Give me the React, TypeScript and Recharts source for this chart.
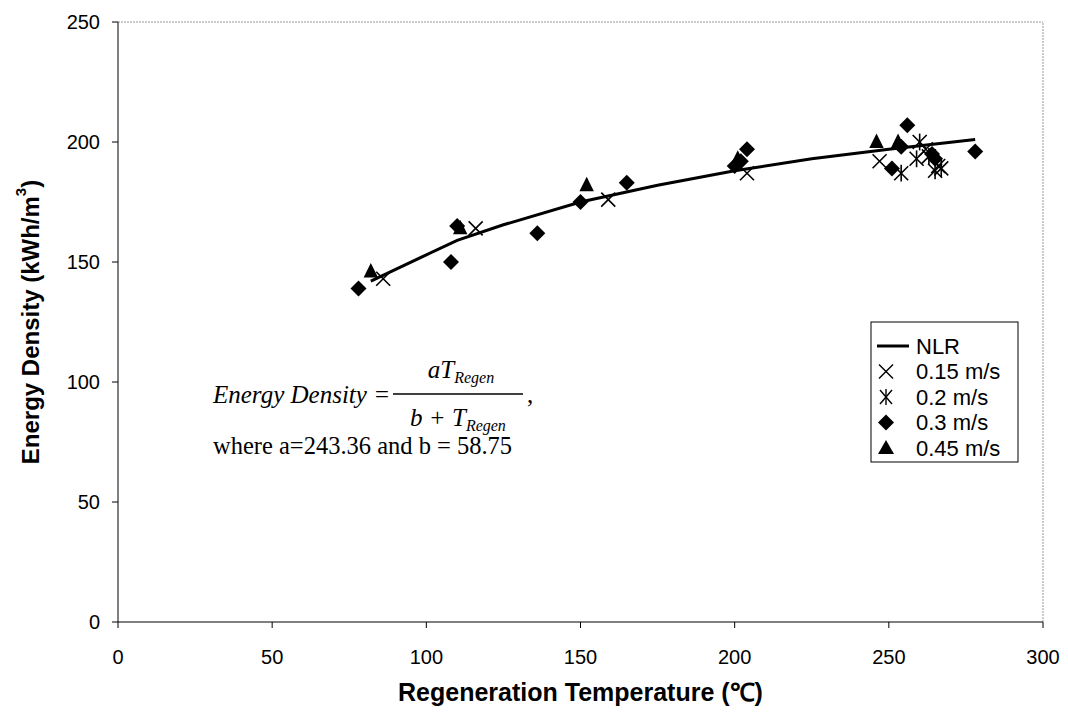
import React from "react";
import {
  ComposedChart,
  Scatter,
  XAxis,
  YAxis,
  ReferenceLine,
  Label,
} from "recharts";

// ---- data ----
const xTicks = [0, 50, 100, 150, 200, 250, 300];
const yTicks = [0, 50, 100, 150, 200, 250];

const nlrCurve = [
  { x: 82, y: 142 },
  { x: 100, y: 153 },
  { x: 110, y: 159 },
  { x: 125, y: 165.5 },
  { x: 150, y: 175 },
  { x: 175, y: 182 },
  { x: 200, y: 188 },
  { x: 225, y: 193 },
  { x: 250, y: 197 },
  { x: 278, y: 201 },
];

const v015 = [
  { x: 86, y: 143 },
  { x: 116, y: 164 },
  { x: 159, y: 176 },
  { x: 204, y: 187 },
  { x: 247, y: 192 },
  { x: 262, y: 197 },
  { x: 266, y: 190 },
];

const v02 = [
  { x: 254, y: 187 },
  { x: 260, y: 200 },
  { x: 259, y: 193 },
  { x: 265, y: 188 },
  { x: 267, y: 189 },
  { x: 263, y: 194 },
];

const v03 = [
  { x: 78, y: 139 },
  { x: 108, y: 150 },
  { x: 110, y: 165 },
  { x: 136, y: 162 },
  { x: 150, y: 175 },
  { x: 165, y: 183 },
  { x: 200, y: 190 },
  { x: 202, y: 192 },
  { x: 204, y: 197 },
  { x: 251, y: 189 },
  { x: 254, y: 198 },
  { x: 256, y: 207 },
  { x: 264, y: 195 },
  { x: 265, y: 193 },
  { x: 278, y: 196 },
];

const v045 = [
  { x: 82, y: 146 },
  { x: 111, y: 164 },
  { x: 152, y: 182 },
  { x: 201, y: 193 },
  { x: 246, y: 200 },
  { x: 253, y: 200 },
];

const legendLabels = ["NLR", "0.15 m/s", "0.2 m/s", "0.3 m/s", "0.45 m/s"];

// ---- marker shapes ----
const XMark = (p: any) => {
  const { cx, cy } = p;
  const r = 7;
  return (
    <g stroke="#000" strokeWidth={1.6}>
      <line x1={cx - r} y1={cy - r} x2={cx + r} y2={cy + r} />
      <line x1={cx - r} y1={cy + r} x2={cx + r} y2={cy - r} />
    </g>
  );
};
const StarMark = (p: any) => {
  const { cx, cy } = p;
  const r = 7;
  return (
    <g stroke="#000" strokeWidth={1.6}>
      <line x1={cx - r} y1={cy - r} x2={cx + r} y2={cy + r} />
      <line x1={cx - r} y1={cy + r} x2={cx + r} y2={cy - r} />
      <line x1={cx} y1={cy - r * 1.2} x2={cx} y2={cy + r * 1.2} />
    </g>
  );
};
const DiamondMark = (p: any) => {
  const { cx, cy } = p;
  const r = 8;
  return (
    <polygon
      points={`${cx},${cy - r} ${cx + r},${cy} ${cx},${cy + r} ${cx - r},${cy}`}
      fill="#000"
    />
  );
};
const TriMark = (p: any) => {
  const { cx, cy } = p;
  const r = 8.5;
  return (
    <polygon
      points={`${cx},${cy - r} ${cx + r * 0.85},${cy + r * 0.7} ${cx - r * 0.85},${cy + r * 0.7}`}
      fill="#000"
    />
  );
};
const NoMark = () => null;

const tickStyle = {
  fill: "#000",
  fontSize: 20,
  fontFamily: "'Liberation Sans', Arial, sans-serif",
};

const YTitle = (props: any) => {
  const { viewBox } = props;
  const cy = viewBox.y + viewBox.height / 2;
  const x = 22;
  return (
    <text
      x={x}
      y={cy}
      transform={`rotate(-90, ${x}, ${cy})`}
      textAnchor="middle"
      dominantBaseline="central"
      fontFamily="'Liberation Sans', Arial, sans-serif"
      fontWeight="bold"
      fontSize={24}
      fill="#000"
    >
      Energy Density (kWh/m
      <tspan fontSize={15} dy={-10}>
        3
      </tspan>
      <tspan dy={10}>)</tspan>
    </text>
  );
};

const legendIcons = [
  (x: number, y: number) => (
    <line x1={x - 9} y1={y} x2={x + 23} y2={y} stroke="#000" strokeWidth={3} />
  ),
  (x: number, y: number) => (
    <g stroke="#000" strokeWidth={1.4}>
      <line x1={x - 7} y1={y - 7} x2={x + 7} y2={y + 7} />
      <line x1={x - 7} y1={y + 7} x2={x + 7} y2={y - 7} />
    </g>
  ),
  (x: number, y: number) => (
    <g stroke="#000" strokeWidth={1.4}>
      <line x1={x - 6} y1={y - 7} x2={x + 6} y2={y + 7} />
      <line x1={x - 6} y1={y + 7} x2={x + 6} y2={y - 7} />
      <line x1={x} y1={y - 8} x2={x} y2={y + 8} />
    </g>
  ),
  (x: number, y: number) => (
    <polygon
      points={`${x},${y - 8} ${x + 8},${y} ${x},${y + 8} ${x - 8},${y}`}
      fill="#000"
    />
  ),
  (x: number, y: number) => (
    <polygon
      points={`${x},${y - 8} ${x + 8},${y + 6} ${x - 8},${y + 6}`}
      fill="#000"
    />
  ),
];

export default function App() {
  const W = 1060;
  const H = 700;
  const serif = "'Liberation Serif', 'Times New Roman', serif";
  const sans = "'Liberation Sans', Arial, sans-serif";
  // legend box in chart coords
  const lx = 863;
  const ly = 314;
  const lw = 147;
  const lh = 140;
  return (
    <div style={{ position: "relative", width: W, height: H, background: "#fff" }}>
      <ComposedChart
        width={W}
        height={H}
        margin={{ top: 14, right: 25, bottom: 56, left: 50 }}
      >
        <XAxis
          type="number"
          dataKey="x"
          domain={[0, 300]}
          ticks={xTicks}
          interval={0}
          tick={tickStyle}
          tickSize={6}
          tickMargin={22}
          stroke="#000"
          height={30}
          allowDataOverflow
        >
          <Label
            value="Regeneration Temperature (℃)"
            position="bottom"
            offset={31}
            style={{
              fontFamily: sans,
              fontWeight: "bold",
              fontSize: 25,
              fill: "#000",
            }}
          />
        </XAxis>
        <YAxis
          type="number"
          dataKey="y"
          domain={[0, 250]}
          ticks={yTicks}
          interval={0}
          tick={tickStyle}
          tickSize={6}
          tickMargin={12}
          stroke="#000"
          width={60}
          allowDataOverflow
        >
          <Label content={<YTitle />} />
        </YAxis>
        <ReferenceLine y={250} stroke="#999" strokeDasharray="2 1" />
        <ReferenceLine x={300} stroke="#999" strokeDasharray="2 1" />
        <Scatter
          name="NLR"
          data={nlrCurve}
          line={{ stroke: "#000", strokeWidth: 3 }}
          lineType="joint"
          shape={NoMark}
          isAnimationActive={false}
        />
        <Scatter name="0.15 m/s" data={v015} shape={XMark} isAnimationActive={false} />
        <Scatter name="0.2 m/s" data={v02} shape={StarMark} isAnimationActive={false} />
        <Scatter name="0.3 m/s" data={v03} shape={DiamondMark} isAnimationActive={false} />
        <Scatter name="0.45 m/s" data={v045} shape={TriMark} isAnimationActive={false} />
      </ComposedChart>
      <svg
        width={W}
        height={H}
        style={{ position: "absolute", left: 0, top: 0, pointerEvents: "none" }}
      >
        {/* legend */}
        <rect x={lx} y={ly} width={lw} height={lh} fill="#fff" stroke="#000" strokeWidth={1} />
        {legendLabels.map((lab, i) => {
          const cy = ly + 24 + i * 25.5;
          return (
            <g key={lab}>
              {legendIcons[i](lx + 15, cy)}
              <text
                x={lx + 45}
                y={cy}
                dominantBaseline="central"
                fontFamily={sans}
                fontSize={22}
                fill="#000"
              >
                {lab}
              </text>
            </g>
          );
        })}
        {/* equation */}
        <g fontFamily={serif} fill="#000">
          <text x={205} y={395} fontSize={25} fontStyle="italic">
            Energy Density =
          </text>
          <text x={453} y={370} fontSize={25} textAnchor="middle" fontStyle="italic">
            aT
            <tspan fontSize={16} dy={5}>
              Regen
            </tspan>
          </text>
          <line x1={385} y1={386} x2={515} y2={386} stroke="#000" strokeWidth={1.3} />
          <text x={450} y={418} fontSize={25} textAnchor="middle" fontStyle="italic">
            b + T
            <tspan fontSize={16} dy={5}>
              Regen
            </tspan>
          </text>
          <text x={519} y={395} fontSize={25}>
            ,
          </text>
          <text x={205} y={446} fontSize={24.5}>
            where a=243.36 and b = 58.75
          </text>
        </g>
      </svg>
    </div>
  );
}
